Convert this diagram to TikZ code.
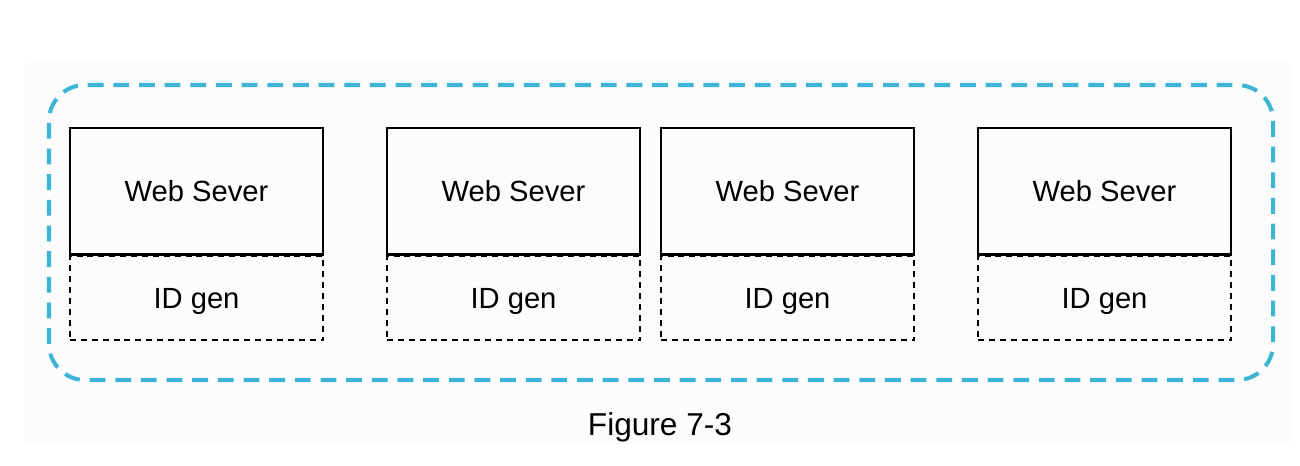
\documentclass[tikz,border=0pt]{standalone}
\usepackage{fontspec}
\setmainfont{Liberation Sans}
\usetikzlibrary{positioning}

\definecolor{boxblue}{HTML}{3CB4D6}
\tikzset{
    websrv/.style={draw,line width=0.6pt,minimum width=2.53cm,minimum height=1.26cm,inner sep=0pt,font=\fontsize{8.3}{10}\selectfont},
    idgen/.style={draw,line width=0.6pt,dash pattern=on 1.7pt off 1.4pt,minimum width=2.53cm,minimum height=0.84cm,inner sep=0pt,text depth=0pt,font=\fontsize{8.3}{10}\selectfont},
}

\begin{document}
\begin{tikzpicture}
    \useasboundingbox (0,0) rectangle (13,4.66);
    %faint backdrop
    \fill[black!1] (0.25,0.21) rectangle (12.9,4.04);
    %outer group
    \draw[boxblue,line width=1.15pt,dash pattern=on 4.5pt off 2.8pt,rounded corners=0.36cm] (0.49,0.86) rectangle (12.73,3.81);

    \foreach \i/\x in {1/1.965,2/5.135,3/7.875,4/11.045}{
        \node[websrv] (web\i) at (\x,2.75) {Web Sever};
        \node[idgen,below=0pt of web\i] (id\i) {ID gen};
        \draw[line width=0.6pt] (web\i.south west) -- (web\i.south east);
    }

    \node[font=\fontsize{9}{11}\selectfont] (cap) at (6.6,0.39) {Figure 7-3};
\end{tikzpicture}
\end{document}
